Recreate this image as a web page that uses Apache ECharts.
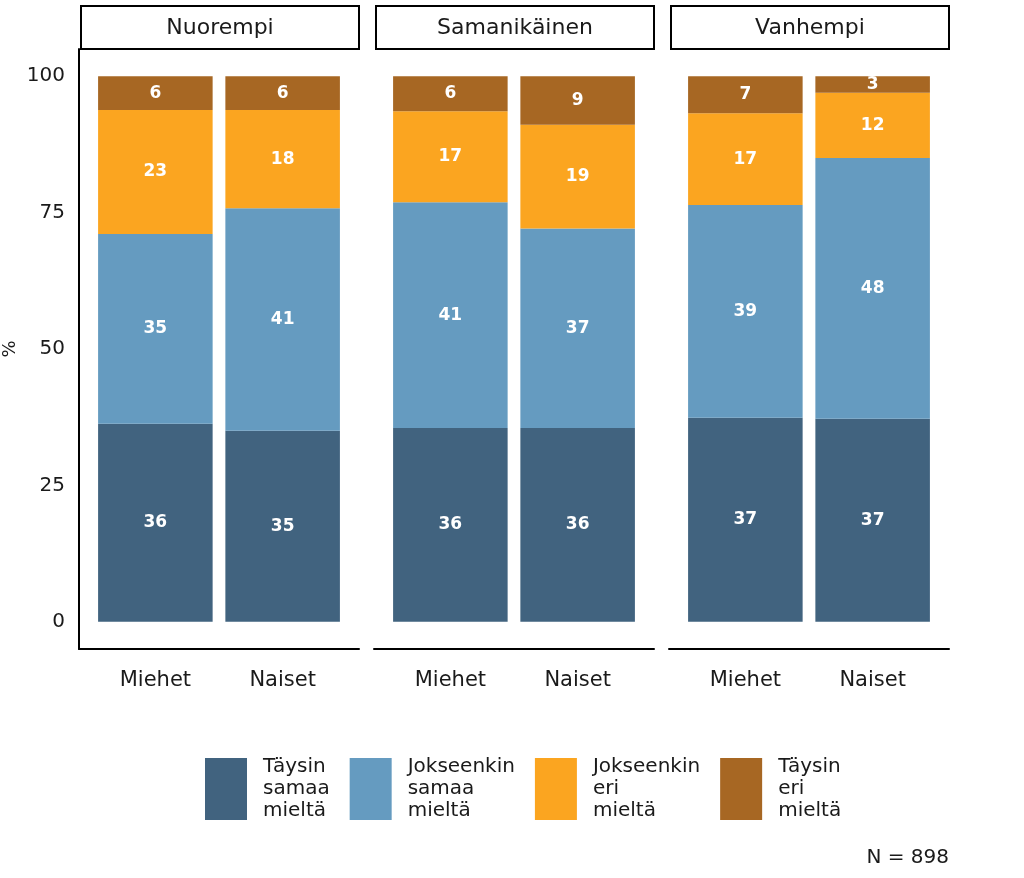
<!DOCTYPE html>
<html><head><meta charset="utf-8">
<script src="https://cdn.jsdelivr.net/npm/echarts@6/dist/echarts.min.js"></script>
<style>html,body{margin:0;padding:0;background:#fff}#c{width:1024px;height:878px}</style>
</head><body><div id="c"></div>
<script>
const panels = ['Nuorempi', 'Samanikäinen', 'Vanhempi'];
const genders = ['Miehet', 'Naiset'];
const responses = ['Täysin\nsamaa\nmieltä', 'Jokseenkin\nsamaa\nmieltä', 'Jokseenkin\neri\nmieltä', 'Täysin\neri\nmieltä'];
const colors = ['#41637f', '#659bc0', '#fba520', '#a76723'];
// values[panel] = [Miehet, Naiset]
const taysinSamaa = [[36.3, 35.0], [35.5, 35.5], [37.4, 37.2]];
const jokseenkinSamaa = [[34.8, 40.8], [41.4, 36.6], [39.0, 47.8]];
const jokseenkinEri = [[22.7, 18.0], [16.7, 19.0], [16.8, 12.0]];
const taysinEri = [[6.2, 6.2], [6.4, 8.9], [6.8, 3.0]];
const yTicks = [0, 25, 50, 75, 100];
const nText = 'N = 898';

const seriesVals = [taysinSamaa, jokseenkinSamaa, jokseenkinEri, taysinEri];
const FONT = 'DejaVu Sans';
const panelLeft = 79, panelW = 280, panelStep = 295, gridTop = 49, gridH = 600;
// discrete axis expansion (0.6 units each side over 2 categories)
const unit = panelW / 2.2;
const inner = 0.1 * unit; // offset of category band from panel edge

const grids = [], xAxes = [], yAxes = [], series = [], graphics = [];
const n = panels.length;
panels.forEach((p, i) => {
  // outer frame grid (axis lines, labels)
  grids.push({left: panelLeft + i * panelStep, top: gridTop, width: panelW, height: gridH,
    containLabel: false, outerBoundsMode: 'none'});
  xAxes.push({
    type: 'value', gridIndex: i, min: 0.4, max: 2.6,
    splitLine: {show: false},
    axisLine: {show: true, onZero: false, lineStyle: {color: '#000', width: 2}},
    axisTick: {show: false},
    axisLabel: {customValues: [1, 2], formatter: v => genders[Math.round(v) - 1],
      fontFamily: FONT, fontSize: 21, color: '#1a1a1a', margin: 21}
  });
  yAxes.push({
    type: 'value', gridIndex: i, min: -5, max: 105,
    show: i === 0,
    name: i === 0 ? '%' : '', nameLocation: 'middle', nameGap: 60, nameRotate: 90,
    nameTextStyle: {fontFamily: FONT, fontSize: 18, color: '#1a1a1a'},
    splitLine: {show: false},
    axisLine: {show: true, onZero: false, lineStyle: {color: '#000', width: 2}},
    axisTick: {show: false},
    axisLabel: {customValues: yTicks, fontFamily: FONT, fontSize: 20, color: '#1a1a1a', margin: 14}
  });
  graphics.push({
    type: 'group', left: panelLeft + 1 + i * panelStep, top: 5,
    children: [
      {type: 'rect', shape: {x: 0, y: 0, width: panelW - 2, height: 43},
        style: {fill: '#fff', stroke: '#000', lineWidth: 2}},
      {type: 'text', x: (panelW - 2) / 2, y: 22,
        style: {text: p, fill: '#1a1a1a', font: '22px "' + FONT + '"', textAlign: 'center', textVerticalAlign: 'middle'}}
    ]
  });
});
panels.forEach((p, i) => {
  // inner grid for the bars (category axis)
  const gi = n + i;
  grids.push({left: panelLeft + i * panelStep + inner, top: gridTop, width: panelW - 2 * inner, height: gridH,
    containLabel: false, outerBoundsMode: 'none'});
  xAxes.push({type: 'category', gridIndex: gi, data: genders, show: false});
  yAxes.push({type: 'value', gridIndex: gi, min: -5, max: 105, show: false, splitLine: {show: false}});
  seriesVals.forEach((vals, r) => {
    series.push({
      type: 'bar', name: responses[r], xAxisIndex: gi, yAxisIndex: gi, stack: 'p' + i,
      barWidth: '90%', itemStyle: {color: colors[r]},
      data: vals[i],
      label: {show: true, position: 'inside', color: '#fff', fontWeight: 'bold',
        fontFamily: FONT, fontSize: 17, formatter: d => Math.round(d.value)}
    });
  });
});
graphics.push({type: 'text', right: 75, top: 848,
  style: {text: nText, fill: '#1a1a1a', font: '20px "' + FONT + '"'}});

const chart = echarts.init(document.getElementById('c'));
chart.setOption({
  animation: false,
  grid: grids, xAxis: xAxes, yAxis: yAxes, series: series, graphic: graphics,
  legend: {
    data: responses, left: 205, top: 756, padding: 0, itemWidth: 42, itemHeight: 62, itemGap: 20,
    icon: 'rect', selectedMode: false,
    textStyle: {fontFamily: FONT, fontSize: 20, lineHeight: 22, color: '#1a1a1a', padding: [0, 0, 0, 11]}
  }
});
</script></body></html>
